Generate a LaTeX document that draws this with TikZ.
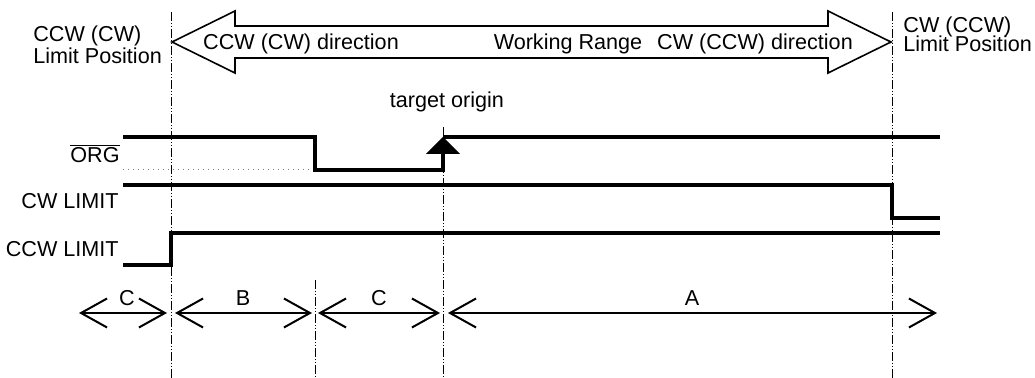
\documentclass[tikz,border=0pt]{standalone}
\usepackage{fontspec}
\setmainfont{Liberation Sans}
\usetikzlibrary{arrows.meta}
\begin{document}
\begin{tikzpicture}[x=0.5pt,y=-0.5pt,
  lbl/.style={inner sep=0pt,font=\fontsize{10.8}{12}\selectfont},
  sig/.style={line width=1.6pt,line join=miter},
  guide/.style={line width=0.5pt,dash pattern=on 4.5pt off 1pt on 0.5pt off 1pt on 0.5pt off 1pt},
  dim/.style={line width=1pt,{Straight Barb[length=13pt,width=14.5pt,line width=1pt]}-{Straight Barb[length=13pt,width=14.5pt,line width=1pt]}},
  bigarrow/.style={line width=0.8pt,line join=miter}]
\useasboundingbox (0,0) rectangle (1035,378);
% guide lines
\coordinate (gLt) at (171,12);  \coordinate (gLb) at (171,378);
\coordinate (gRt) at (892,12);  \coordinate (gRb) at (892,378);
\coordinate (gOt) at (443,127); \coordinate (gOb) at (443,378);
\coordinate (gBt) at (315,280); \coordinate (gBb) at (315,378);
\draw[guide] (gLt) -- (gLb);
\draw[guide] (gRt) -- (gRb);
\draw[guide] (gOt) -- (gOb);
\draw[guide] (gBt) -- (gBb);
% big double arrow
\draw[bigarrow,fill=white] (172,42) -- (235,11) -- (235,26) -- (828,26) -- (828,11) -- (891,42)
  -- (828,73) -- (828,58) -- (235,58) -- (235,73) -- cycle;
\node[lbl,anchor=base] (dl) at (301,50) {CCW (CW) direction};
\node[lbl,anchor=base] (wr) at (568,50) {Working Range};
\node[lbl,anchor=base] (dr) at (755,50) {CW (CCW) direction};
% limit position labels
\node[lbl,anchor=base west] (ll1) at (33,42) {CCW (CW)};
\node[lbl,anchor=base west] (ll2) at (33,64) {Limit Position};
\node[lbl,anchor=base west] (rl1) at (903,33) {CW (CCW)};
\node[lbl,anchor=base west] (rl2) at (903,52) {Limit Position};
\node[lbl,anchor=base] (to) at (447,108) {target origin};
% signal labels
\node[lbl,anchor=base east] (org) at (120,163) {$\overline{\mbox{ORG}}$};
\node[lbl,anchor=base east] (cwl) at (119,209) {CW LIMIT};
\node[lbl,anchor=base east] (ccwl) at (119,257) {CCW LIMIT};
% ORG signal
\draw[line width=0.5pt,gray,dotted] (123,170) -- (315,170);
\draw[sig] (123,137) -- (315,137) -- (315,170) -- (443,170) -- (443,152);
\fill (443,137) -- (460,154) -- (426,154) -- cycle;
\draw[sig] (443,137) -- (940,137);
% CW LIMIT
\draw[sig] (123,185) -- (892,185) -- (892,218) -- (940,218);
% CCW LIMIT
\draw[sig] (123,265) -- (171,265) -- (171,233) -- (940,233);
% dimension arrows
\coordinate (a1) at (79,313);  \coordinate (a2) at (167,313);
\coordinate (b1) at (175,313); \coordinate (b2) at (312,313);
\coordinate (c1) at (318,313); \coordinate (c2) at (440,313);
\coordinate (d1) at (448,313); \coordinate (d2) at (937,313);
\draw[dim] (a1) -- (a2);
\draw[dim] (b1) -- (b2);
\draw[dim] (c1) -- (c2);
\draw[dim] (d1) -- (d2);
\node[lbl,anchor=base] (lc1) at (127,306) {C};
\node[lbl,anchor=base] (lb) at (243,306) {B};
\node[lbl,anchor=base] (lc2) at (379,306) {C};
\node[lbl,anchor=base] (la) at (692,306) {A};
\end{tikzpicture}
\end{document}
